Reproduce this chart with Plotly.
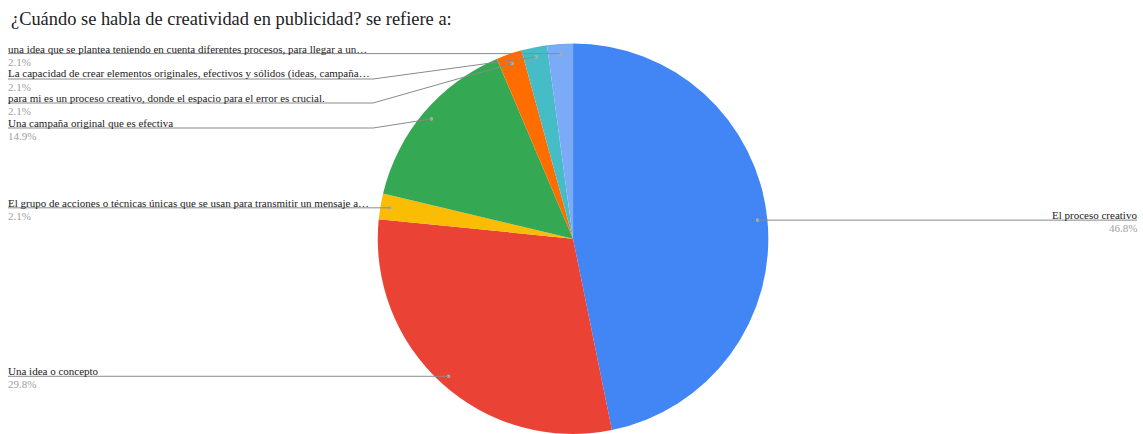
import math
import plotly.graph_objects as go

# ---------------- data ----------------
title_text = "¿Cuándo se habla de creatividad en publicidad? se refiere a:"
categories = [
    "El proceso creativo",
    "Una idea o concepto",
    "El grupo de acciones o técnicas únicas que se usan para transmitir un mensaje a…",
    "Una campaña original que es efectiva",
    "para mi es un proceso creativo, donde el espacio para el error es crucial.",
    "La capacidad de crear elementos originales, efectivos y sólidos (ideas, campaña…",
    "una idea que se plantea teniendo en cuenta diferentes procesos, para llegar a un…",
]
counts = [22, 14, 1, 7, 1, 1, 1]
colors = ["#4285F4", "#EA4335", "#FBBC04", "#34A853", "#FF6D01", "#46BDC6", "#7BAAF7"]

# ---------------- layout constants ----------------
W, H = 1143, 434
dom_x = [0.3305, 0.6722]
dom_y = [0.0, 0.9]
label_side = ["right", "left", "left", "left", "left", "left", "left"]
label_line_y = [None, None, None, 128, 103, 79, None]   # None -> horizontal at dot height
elbow_x = 373
left_x = 8
right_x = 1137
text_pad = 2
font_family = "Liberation Serif, Times New Roman, serif"
label_size = 11

cx = (dom_x[0] + dom_x[1]) / 2 * W
cy = H - (dom_y[0] + dom_y[1]) / 2 * H
r = min((dom_x[1] - dom_x[0]) * W, (dom_y[1] - dom_y[0]) * H) / 2

def px(x):
    return x / W

def py(y):
    return 1 - y / H

total = sum(counts)

fig = go.Figure(go.Pie(
    labels=categories, values=counts, marker=dict(colors=colors, line=dict(width=0)),
    sort=False, direction="clockwise", rotation=0, textinfo="none",
    domain=dict(x=dom_x, y=dom_y), showlegend=False,
))

shapes = []
annotations = []
cum = 0
for i, c in enumerate(counts):
    mid = (cum + c / 2) / total * 2 * math.pi
    cum += c
    dx = cx + 0.95 * r * math.sin(mid)
    dy = cy - 0.95 * r * math.cos(mid)
    ly = label_line_y[i] if label_line_y[i] is not None else dy
    pct = f"{100 * c / total:.1f}%"
    # dot
    shapes.append(dict(type="circle", xref="paper", yref="paper",
                       x0=px(dx - 1.8), x1=px(dx + 1.8), y0=py(dy + 1.8), y1=py(dy - 1.8),
                       fillcolor="#b0b0b0", line=dict(width=0), layer="above"))
    if label_side[i] == "left":
        if label_line_y[i] is None:
            pts = [(left_x, ly), (dx, dy)]
        else:
            pts = [(left_x, ly), (elbow_x, ly), (dx, dy)]
        tx, anchor = left_x - text_pad, "left"
    else:
        pts = [(dx, dy), (right_x, ly)]
        tx, anchor = right_x + text_pad, "right"
    for (x0, y0), (x1, y1) in zip(pts[:-1], pts[1:]):
        shapes.append(dict(type="line", xref="paper", yref="paper",
                           x0=px(x0), y0=py(y0), x1=px(x1), y1=py(y1),
                           line=dict(color="#8a8a8a", width=1), layer="above"))
    annotations.append(dict(text=categories[i], xref="paper", yref="paper",
                            x=px(tx), y=py(ly), xanchor=anchor, yanchor="bottom", yshift=-3,
                            showarrow=False, font=dict(family=font_family, size=label_size, color="#222222")))
    annotations.append(dict(text=pct, xref="paper", yref="paper",
                            x=px(tx), y=py(ly), xanchor=anchor, yanchor="top", yshift=0,
                            showarrow=False, font=dict(family=font_family, size=label_size, color="#a0a0a0")))

fig.update_layout(
    width=W, height=H,
    margin=dict(l=0, r=0, t=0, b=0),
    paper_bgcolor="white", plot_bgcolor="white",
    title=dict(text=title_text, x=px(11), xanchor="left", xref="paper",
               y=py(19), yanchor="middle", yref="paper",
               font=dict(family=font_family, size=18.4, color="#222222")),
    shapes=shapes, annotations=annotations,
)

fig.write_html("out.html", config={"displayModeBar": False},
               post_script="document.body.style.margin='0';document.body.style.overflow='hidden';")
